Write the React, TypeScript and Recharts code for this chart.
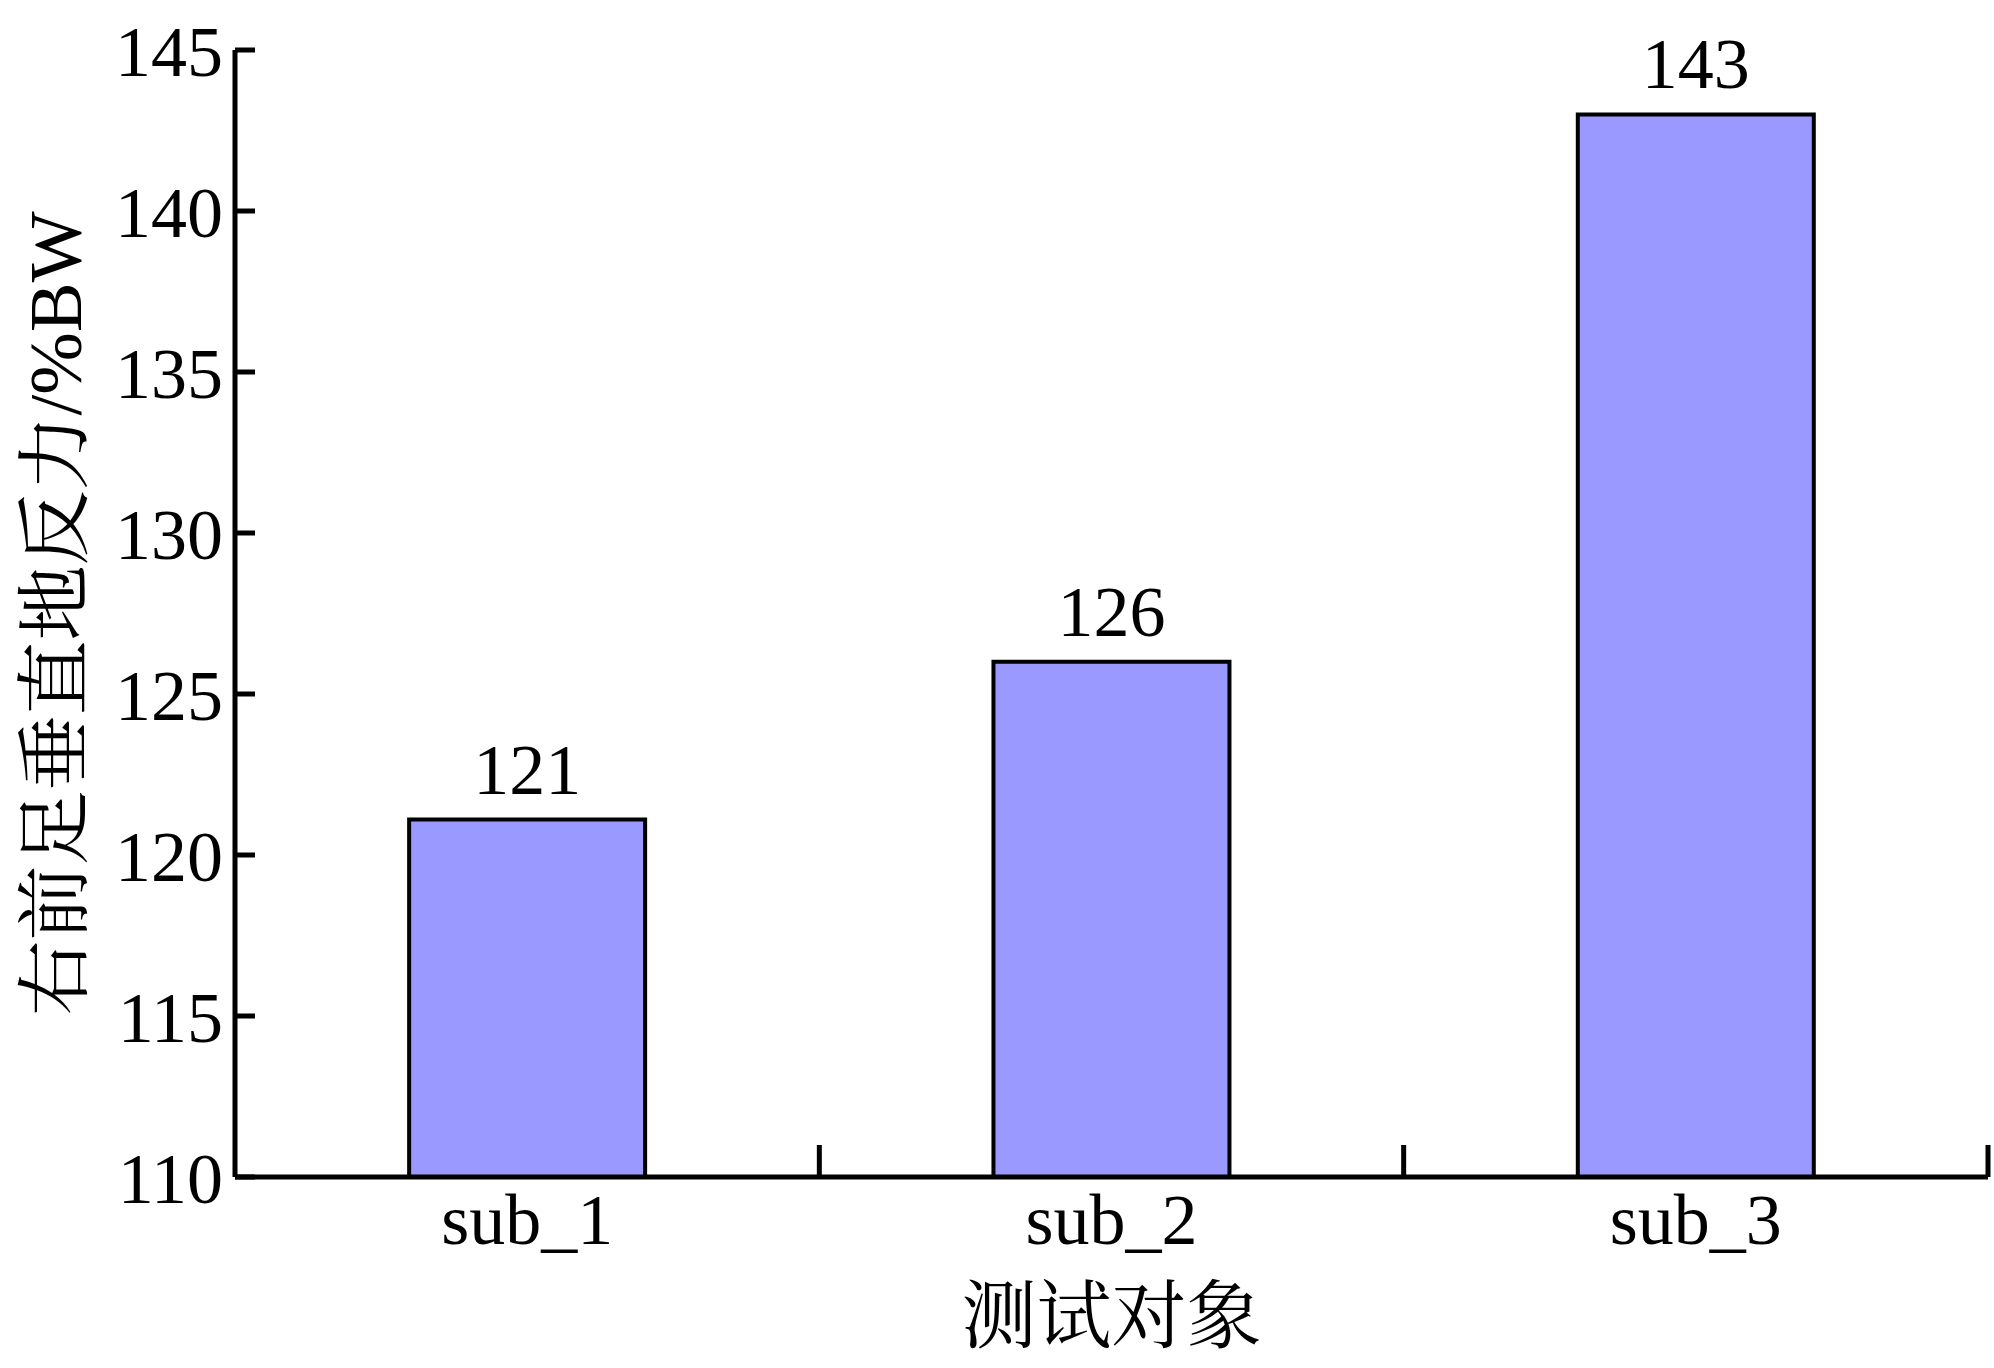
import React from "react";
import { BarChart, Bar, XAxis, YAxis, LabelList } from "recharts";

// data
const subjects = ["sub_1", "sub_2", "sub_3"];
const forceValues = [121.1, 126, 143];
const yTicks = [110, 115, 120, 125, 130, 135, 140, 145];

const data = subjects.map((name, i) => ({ name, value: forceValues[i] }));

const W = 1994;
const H = 1368;
const MARGIN = { top: 50, right: 6, left: 0, bottom: 0 };
const Y_AXIS_W = 235;
const X_AXIS_H = 191;
const TICK_GAP = 16;

const SERIF = "'Liberation Serif', 'Times New Roman', serif";
const CJK = "'Liberation Serif', 'Times New Roman', 'Noto Serif CJK SC', 'Noto Sans CJK SC', serif";

const bandHalf = (W - MARGIN.left - MARGIN.right - Y_AXIS_W) / subjects.length / 2;

// category label + tick mark at the right edge of each band (ticks point up)
const SubTick = (props: any) => {
  const { x, y, payload } = props;
  const half = payload && typeof payload.offset === "number" && payload.offset > 0 ? payload.offset : bandHalf;
  const axisY = y - TICK_GAP;
  return (
    <g>
      <line x1={x + half} x2={x + half} y1={axisY} y2={axisY - 32} stroke="#000" strokeWidth={5} />
      <text x={x} y={y} dy="0.71em" textAnchor="middle" fontFamily={SERIF} fontSize={72} fill="#000">
        {payload.value}
      </text>
    </g>
  );
};

const YTitle = (props: any) => {
  const vb = props.viewBox || {};
  const cx = vb.x + 55;
  const cy = vb.y + vb.height / 2;
  return (
    <text
      x={cx}
      y={cy}
      transform={`rotate(-90, ${cx}, ${cy})`}
      textAnchor="middle"
      dominantBaseline="central"
      fontFamily={CJK}
      fontSize={75}
      fill="#000"
    >
      右前足垂直地反力/%BW
    </text>
  );
};

const XTitle = (props: any) => {
  const vb = props.viewBox || {};
  const cx = vb.x + vb.width / 2;
  const cy = vb.y + 139;
  return (
    <text x={cx} y={cy} textAnchor="middle" dominantBaseline="central" fontFamily={CJK} fontSize={75} fill="#000">
      测试对象
    </text>
  );
};

export default function App() {
  return (
    <div style={{ position: "absolute", left: 0, top: 0, background: "#fff" }}>
      <BarChart width={W} height={H} data={data} margin={MARGIN} barCategoryGap="29.8%">
        <XAxis
          dataKey="name"
          type="category"
          height={X_AXIS_H}
          axisLine={{ stroke: "#000", strokeWidth: 5 }}
          tickLine={false}
          tickSize={0}
          tickMargin={TICK_GAP}
          tick={<SubTick />}
          interval={0}
          label={<XTitle />}
        />
        <YAxis
          type="number"
          domain={[110, 145]}
          ticks={yTicks}
          allowDataOverflow
          width={Y_AXIS_W}
          axisLine={{ stroke: "#000", strokeWidth: 5 }}
          tickLine={{ stroke: "#000", strokeWidth: 5 }}
          tickSize={-20}
          tickMargin={32}
          tick={{ fill: "#000", fontSize: 72, fontFamily: SERIF }}
          label={<YTitle />}
        />
        <Bar dataKey="value" fill="#9999FF" stroke="#000" strokeWidth={4} isAnimationActive={false}>
          <LabelList
            dataKey="value"
            position="top"
            offset={26}
            formatter={(v: any) => Math.round(Number(v))}
            style={{ fill: "#000", fontSize: 72, fontFamily: SERIF }}
          />
        </Bar>
      </BarChart>
    </div>
  );
}
